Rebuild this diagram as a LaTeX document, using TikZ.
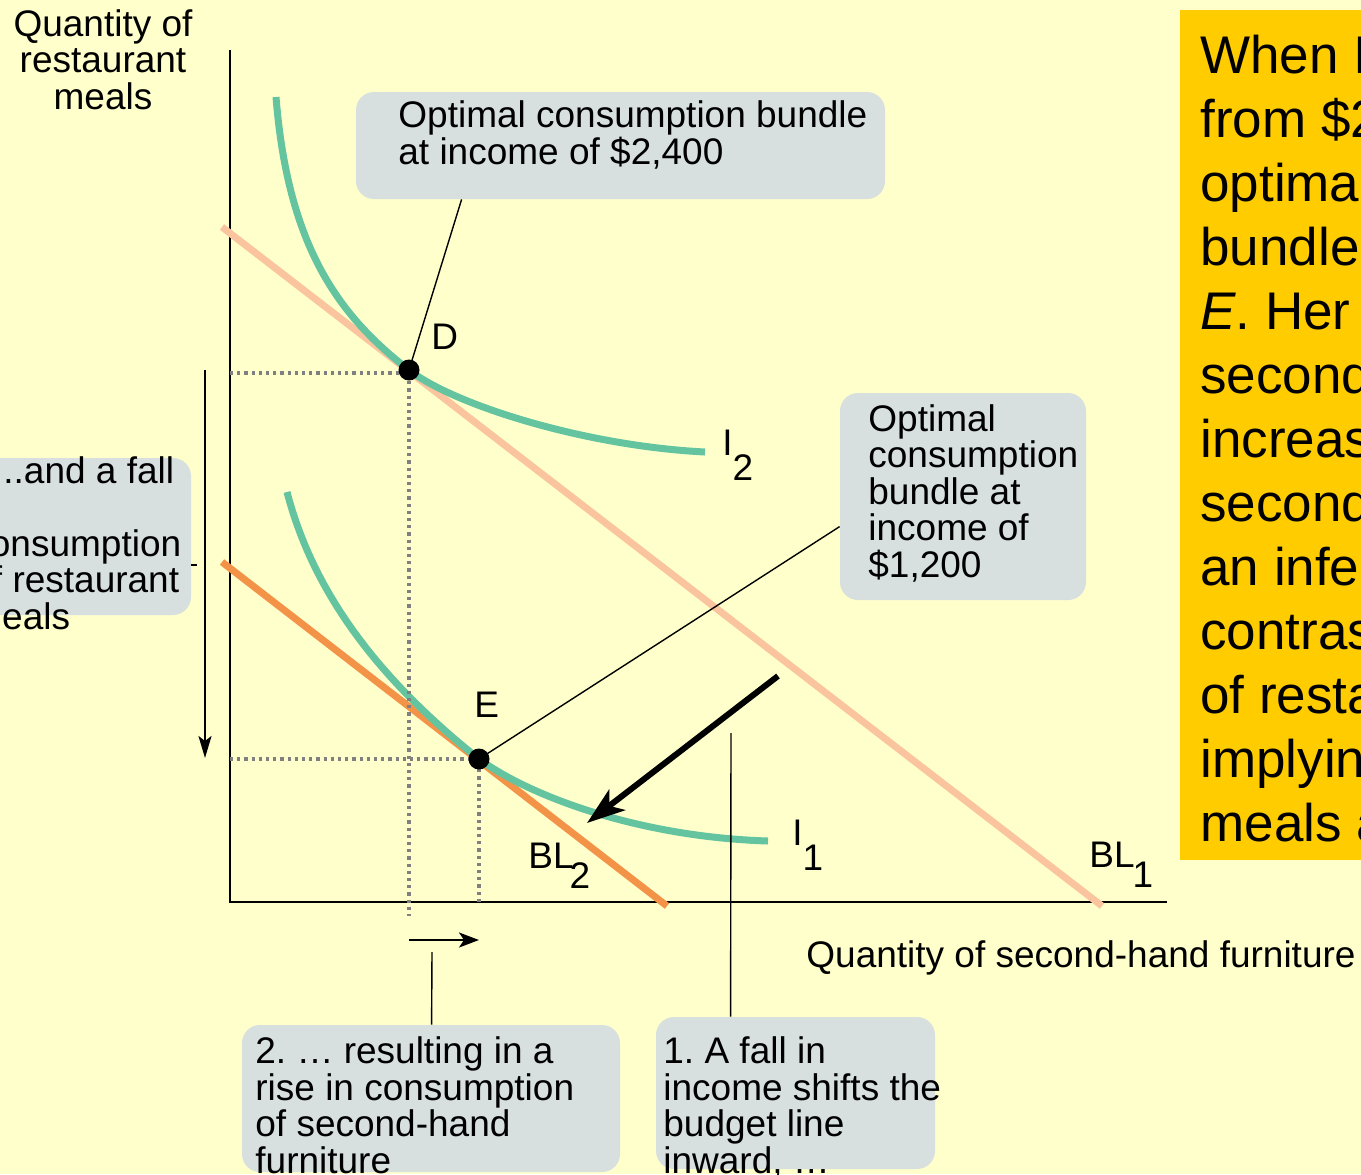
\documentclass[tikz,border=0pt]{standalone}
\usepackage{fontspec}
\setmainfont{Liberation Sans}
\usetikzlibrary{arrows.meta,fit}
\definecolor{bg}{HTML}{FFFFCC}
\definecolor{boxgray}{HTML}{D7E0DF}
\definecolor{noteyellow}{HTML}{FFCC00}
\definecolor{icgreen}{HTML}{64C4A0}
\definecolor{blight}{HTML}{FAC59E}
\definecolor{bldark}{HTML}{F39347}
\definecolor{dotgray}{HTML}{808080}
\frenchspacing
\begin{document}
\begin{tikzpicture}[x=0.5pt,y=-0.5pt,
  txt/.style={inner sep=0pt, align=left, anchor=base west, font=\fontsize{18.5}{18.2}\selectfont},
  notetxt/.style={inner sep=0pt, align=left, anchor=base west, font=\fontsize{26.5}{32}\selectfont},
  lbl/.style={inner sep=0pt, anchor=base west, font=\fontsize{18.5}{18.2}\selectfont},
  callout/.style={fill=boxgray, rounded corners=9pt, inner sep=0pt},
  axis/.style={line width=1pt, black},
  icurve/.style={line width=3.5pt, icgreen},
  dots/.style={line width=1.6pt, dotgray, dash pattern=on 1.6pt off 2pt},
  conn/.style={line width=0.7pt, black},
  ptdot/.style={circle, fill=black, minimum size=10.5pt, inner sep=0pt},
  thinarrow/.style={line width=1.1pt, -{Stealth[length=11pt,width=6.5pt,inset=2.5pt]}},
  bigarrow/.style={line width=3pt, -{Stealth[length=19pt,width=13pt,inset=5pt]}}
]
\fill[bg] (0,0) rectangle (1361,1174);
\useasboundingbox (0,0) rectangle (1361,1174);

% note box on the right (text anchored at its last baseline)
\node[fill=noteyellow, inner sep=0pt, fit={(1180,10) (1420,860)}] (note) {};
\node[notetxt] (notetext) at (1200,841) {When I\\from \$2\\optima\\bundle\\\textit{E}. Her\\second\\increas\\second\\an infe\\contras\\of resta\\implyin\\meals a};

% axes
\coordinate (ytop) at (230,50);
\coordinate (O) at (230,902);
\coordinate (xend) at (1167,902);
\draw[axis] (ytop) -- (O) -- (xend);

% budget lines
\coordinate (bl1a) at (222,227);
\coordinate (bl1b) at (1102,906);
\coordinate (bl2a) at (222,562);
\coordinate (bl2b) at (667,906);
\draw[line width=3.5pt, blight] (bl1a) -- (bl1b);
\draw[line width=3.5pt, bldark] (bl2a) -- (bl2b);

% points
\coordinate (Dc) at (409,370);
\coordinate (Ec) at (479,759);

% indifference curves
\coordinate (i2s) at (276,97);
\coordinate (i2e) at (705,452);
\coordinate (i1s) at (287,492);
\coordinate (i1e) at (768,841);
\draw[icurve] (i2s) .. controls (288,247) and (339,316) .. (Dc)
                    .. controls (454,405) and (585,446) .. (i2e);
\draw[icurve] (i1s) .. controls (315.6,602) and (389,687.4) .. (Ec)
                    .. controls (529,795.7) and (638,837) .. (i1e);

% dotted guides
\draw[dots] (230,373) -- (409,373) -- (409,916);
\draw[dots] (230,759) -- (479,759) -- (479,902);

% callout boxes
\node[callout, fit={(356,92) (885,199)}] (b2400) {};
\node[txt] (t2400) at (398,164) {Optimal consumption bundle\\at income of \$2,400};
\node[callout, fit={(840,393) (1086,600)}] (b1200) {};
\node[txt] (t1200) at (868,577) {Optimal\\consumption\\bundle at\\income of\\\$1,200};
\node[callout, fit={(-40,458) (191,615)}] (lbox) {};
\node[txt] (tl) at (-29,629) {\hspace*{16pt}..and a fall\\\mbox{}\\consumption\\of restaurant\\meals};
\node[callout, fit={(242,1025) (620,1172)}] (box2) {};
\node[txt] (t2) at (255,1173) {2. … resulting in a\\rise in consumption\\of second-hand\\furniture};
\node[callout, fit={(656,1017) (935,1169)}] (box1) {};
\node[txt] (t1) at (663,1173) {1. A fall in\\income shifts the\\budget line\\inward, …};

% connectors
\draw[conn] ([xshift=53pt]b2400.south west) -- (Dc);
\draw[conn] ([yshift=-67pt]b1200.north west) -- (Ec);
\coordinate (c2top) at (432,952);
\draw[conn] ([xshift=95pt]box2.north west) -- (c2top);
\coordinate (c1top) at (731,733);
\draw[conn] ([xshift=37.5pt]box1.north west) -- (c1top);
\coordinate (tickend) at (197,565);
\draw[conn] ([yshift=-14.25pt]lbox.east) -- (tickend);

\node[ptdot] (D) at (Dc) {};
\node[ptdot] (E) at (Ec) {};

% arrows
\coordinate (va1) at (205,370);
\coordinate (va2) at (205,758);
\draw[thinarrow] (va1) -- (va2);
\coordinate (ha1) at (409,940);
\coordinate (ha2) at (479,940);
\draw[line width=1.1pt, -{Stealth[length=10pt,width=7.5pt,inset=2.5pt]}] (ha1) -- (ha2);
\coordinate (ba1) at (778,676);
\coordinate (ba2) at (587,823);
\draw[bigarrow] (ba1) -- (ba2);

% labels
\node[lbl] (Dl) at (431,349) {D};
\node[lbl] (El) at (474,717) {E};
\node[lbl] (I2l) at (722,455) {I\raisebox{-12.5pt}{2}};
\node[lbl] (I1l) at (792,845) {I\raisebox{-12.5pt}{1}};
\node[lbl] (BL2l) at (528,868) {BL\kern-2pt\raisebox{-10pt}{2}};
\node[lbl] (BL1l) at (1089,867) {BL\kern-1pt\raisebox{-10pt}{1}};

% axis labels
\node[inner sep=0pt, align=center, anchor=base, font=\fontsize{18.5}{18.2}\selectfont] (ylab) at (103,109) {Quantity of\\restaurant\\meals};
\node[lbl] (xlab) at (806,967) {Quantity of second-hand furniture};
\end{tikzpicture}
\end{document}
